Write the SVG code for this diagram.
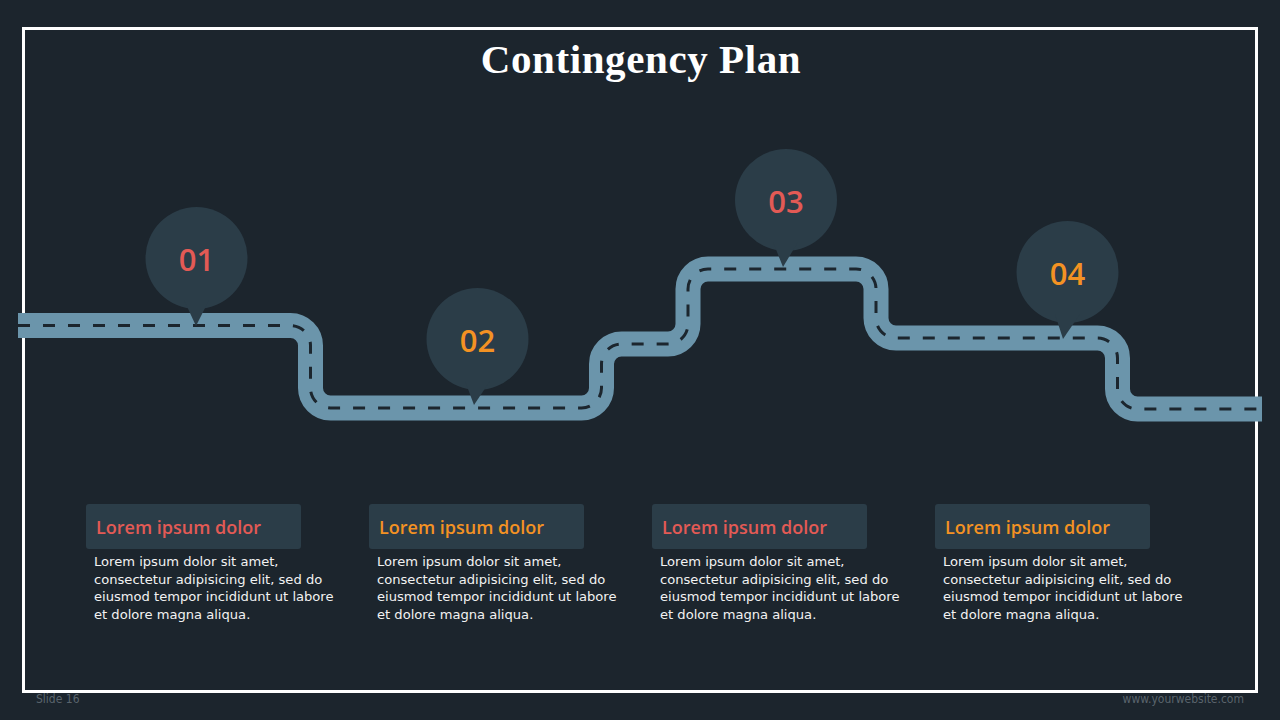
<svg xmlns="http://www.w3.org/2000/svg" width="1280" height="720" viewBox="0 0 1280 720">
<style>
.bg{fill:#1c252d}
.road{fill:none;stroke:#6b95ab;stroke-width:25}
.dash{fill:none;stroke:#1c262e;stroke-width:3;stroke-dasharray:12 13}
.pin{fill:#2b3d48}
.num{font-family:"Open Sans","DejaVu Sans",sans-serif;font-size:31px;font-weight:600;text-anchor:middle}
.red{fill:#e35a55}
.org{fill:#f39223}
.box{fill:#2b3d48}
.head{font-family:"Open Sans","DejaVu Sans",sans-serif;font-size:18px;font-weight:600}
.body{font-family:"DejaVu Sans",sans-serif;font-size:13.1px;fill:#f2f2f2}
.foot{font-family:"DejaVu Sans Condensed","DejaVu Sans",sans-serif;font-size:12px;fill:#5a646c}
</style>
<rect class="bg" x="0" y="0" width="1280" height="720"/>
<rect x="23.5" y="28.5" width="1233" height="663" fill="none" stroke="#ffffff" stroke-width="3"/>
<text x="641" y="73" font-family="Liberation Serif, serif" font-size="41" font-weight="bold" letter-spacing="0.6" fill="#ffffff" text-anchor="middle">Contingency Plan</text>
<g id="connectors">
<path id="road" class="road" d="M 18 325.5 H 290.5 A 20 20 0 0 1 310.5 345.5 V 388 A 20 20 0 0 0 330.5 408 H 581.5 A 20 20 0 0 0 601.5 388 V 364 A 20 20 0 0 1 621.5 344 H 668 A 20 20 0 0 0 688 324 V 289 A 20 20 0 0 1 708 269 H 856 A 20 20 0 0 1 876 289 V 318 A 20 20 0 0 0 896 338 H 1097.5 A 20 20 0 0 1 1117.5 358 V 389 A 20 20 0 0 0 1137.5 409 H 1262"/>
<path class="dash" d="M 18 325.5 H 290.5 A 20 20 0 0 1 310.5 345.5 V 388 A 20 20 0 0 0 330.5 408 H 581.5 A 20 20 0 0 0 601.5 388 V 364 A 20 20 0 0 1 621.5 344 H 668 A 20 20 0 0 0 688 324 V 289 A 20 20 0 0 1 708 269 H 856 A 20 20 0 0 1 876 289 V 318 A 20 20 0 0 0 896 338 H 1097.5 A 20 20 0 0 1 1117.5 358 V 389 A 20 20 0 0 0 1137.5 409 H 1262"/>
</g>
<g id="pin1">
<circle class="pin" cx="196.5" cy="258" r="51"/>
<path class="pin" d="M 184 300 L 209 300 L 196 326 Z"/>
<text class="num red" x="196.5" y="271">01</text>
</g>
<g id="pin2">
<circle class="pin" cx="477.5" cy="339" r="51"/>
<path class="pin" d="M 465 381 L 490 381 L 474 405 Z"/>
<text class="num org" x="477.5" y="352">02</text>
</g>
<g id="pin3">
<circle class="pin" cx="786" cy="200" r="51"/>
<path class="pin" d="M 773 242 L 798 242 L 783 267 Z"/>
<text class="num red" x="786" y="213">03</text>
</g>
<g id="pin4">
<circle class="pin" cx="1067.5" cy="272" r="51"/>
<path class="pin" d="M 1055 314 L 1080 314 L 1063 339 Z"/>
<text class="num org" x="1067.5" y="285">04</text>
</g>
<g id="card1">
<rect class="box" x="86" y="504" width="215" height="45" rx="3"/>
<text class="head red" x="96" y="534">Lorem ipsum dolor</text>
<text class="body" x="94" y="566"><tspan x="94">Lorem ipsum dolor sit amet,</tspan><tspan x="94" dy="17.5">consectetur adipisicing elit, sed do</tspan><tspan x="94" dy="17.5">eiusmod tempor incididunt ut labore</tspan><tspan x="94" dy="17.5">et dolore magna aliqua.</tspan></text>
</g>
<g id="card2">
<rect class="box" x="369" y="504" width="215" height="45" rx="3"/>
<text class="head org" x="379" y="534">Lorem ipsum dolor</text>
<text class="body" x="377" y="566"><tspan x="377">Lorem ipsum dolor sit amet,</tspan><tspan x="377" dy="17.5">consectetur adipisicing elit, sed do</tspan><tspan x="377" dy="17.5">eiusmod tempor incididunt ut labore</tspan><tspan x="377" dy="17.5">et dolore magna aliqua.</tspan></text>
</g>
<g id="card3">
<rect class="box" x="652" y="504" width="215" height="45" rx="3"/>
<text class="head red" x="662" y="534">Lorem ipsum dolor</text>
<text class="body" x="660" y="566"><tspan x="660">Lorem ipsum dolor sit amet,</tspan><tspan x="660" dy="17.5">consectetur adipisicing elit, sed do</tspan><tspan x="660" dy="17.5">eiusmod tempor incididunt ut labore</tspan><tspan x="660" dy="17.5">et dolore magna aliqua.</tspan></text>
</g>
<g id="card4">
<rect class="box" x="935" y="504" width="215" height="45" rx="3"/>
<text class="head org" x="945" y="534">Lorem ipsum dolor</text>
<text class="body" x="943" y="566"><tspan x="943">Lorem ipsum dolor sit amet,</tspan><tspan x="943" dy="17.5">consectetur adipisicing elit, sed do</tspan><tspan x="943" dy="17.5">eiusmod tempor incididunt ut labore</tspan><tspan x="943" dy="17.5">et dolore magna aliqua.</tspan></text>
</g>
<text class="foot" x="36" y="703">Slide 16</text>
<text class="foot" x="1244" y="703" text-anchor="end">www.yourwebsite.com</text>
</svg>
